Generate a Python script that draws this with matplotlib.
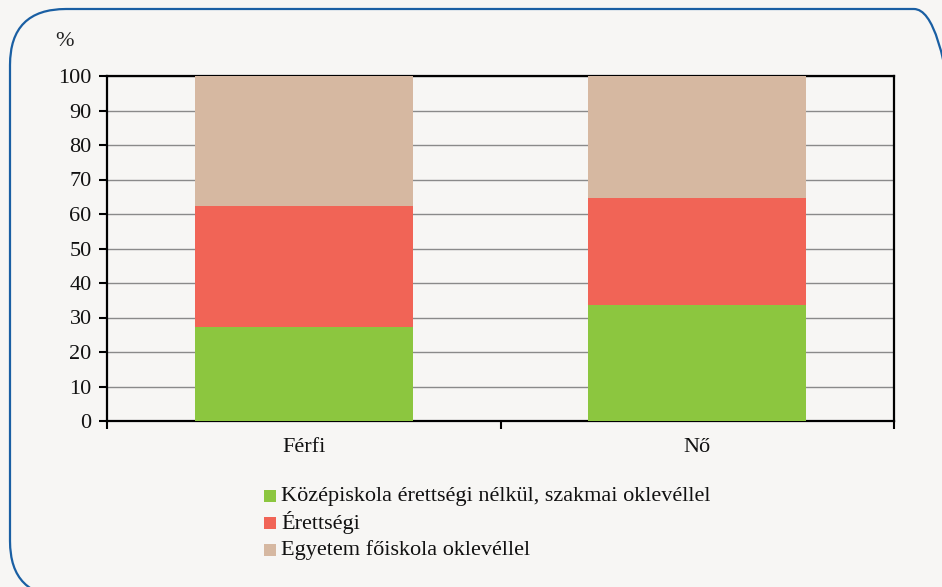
import matplotlib
matplotlib.use("Agg")
import matplotlib.pyplot as plt
from matplotlib.patches import FancyBboxPatch, Rectangle
import numpy as np

categories = ["Férfi", "Nő"]
series_names = ["Középiskola érettségi nélkül, szakmai oklevéllel",
                "Érettségi",
                "Egyetem főiskola oklevéllel"]
vals_kozep = [27.3, 33.5]
vals_erett = [35.1, 31.2]
vals_egyet = [37.6, 35.3]
colors = ["#8cc63f", "#f16456", "#d6b8a1"]
yticks = [0, 10, 20, 30, 40, 50, 60, 70, 80, 90, 100]

plt.rcParams['font.family'] = ['Liberation Serif', 'DejaVu Serif']
W, H = 942, 587
fig = plt.figure(figsize=(W/100, H/100), dpi=100)
bg = "#f7f6f4"
fig.patch.set_facecolor(bg)

# rounded border (inch units, 100 px per inch)
box = FancyBboxPatch((0.10, -0.10), 9.60, 5.87 - 0.09 + 0.10,
                     boxstyle="round,pad=0,rounding_size=0.56",
                     transform=fig.dpi_scale_trans, facecolor="none",
                     edgecolor="#1a5fa3", linewidth=1.6)
fig.patches.append(box)

ax = fig.add_axes([107/W, 1 - 421/H, (894 - 107)/W, (421 - 76)/H])
ax.set_facecolor(bg)
x = np.arange(len(categories))
bw = 0.555
bottom = np.zeros(len(categories))
for vals, c, name in zip([vals_kozep, vals_erett, vals_egyet], colors, series_names):
    ax.bar(x, vals, bw, bottom=bottom, color=c, label=name, zorder=3)
    bottom += np.array(vals)

fs = 16
ax.set_xlim(-0.5, len(categories) - 0.5)
ax.set_ylim(0, 100)
ax.set_yticks(yticks)
ax.set_yticklabels([str(t) for t in yticks], fontsize=fs, color="#111111")
ax.yaxis.grid(True, color="#8a8a8a", linewidth=1.0, zorder=0)
ax.set_axisbelow(True)
for s in ax.spines.values():
    s.set_color("black")
    s.set_linewidth(1.6)
ax.tick_params(axis='y', direction='out', length=6, width=1.5, pad=5)
ax.set_xticks([-0.5, 0.5, 1.5])
ax.set_xticklabels([])
ax.tick_params(axis='x', direction='out', length=6, width=1.5)
for xi, lab in zip(x, categories):
    ax.text(xi, -5.0, lab, ha='center', va='top', fontsize=fs,
            transform=ax.transData, color="#111111")

fig.text(55/W, 1 - 42/H, "%", fontsize=fs, ha='left', va='center', color="#222222")

# legend
ys = [496, 523, 550]
for name, c, yy in zip(series_names, colors, ys):
    fig.patches.append(Rectangle((264/W, 1 - (yy + 6)/H), 12/W, 12/H,
                                 transform=fig.transFigure, facecolor=c, edgecolor='none'))
    fig.text(281/W, 1 - yy/H, name, fontsize=fs, ha='left', va='center', color="#111111")

fig.savefig("out.png", dpi=100, facecolor=bg)
